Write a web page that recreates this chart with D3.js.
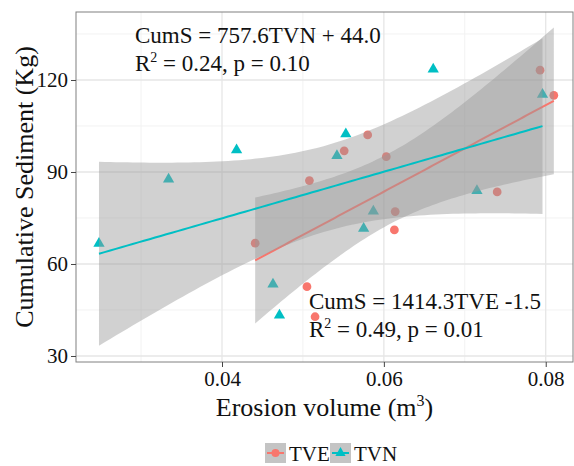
<!DOCTYPE html>
<html>
<head>
<meta charset="utf-8">
<script src="https://cdn.jsdelivr.net/npm/d3@7"></script>
<style>
  body { margin: 0; background: #fff; }
  svg text { font-family: "Liberation Serif", "Times New Roman", serif; fill: #111; }
</style>
</head>
<body>
<svg id="chart" width="574" height="466"></svg>
<script>
// data
var tveX = [0.0441, 0.0505, 0.0515, 0.0508, 0.0551, 0.0580, 0.0603, 0.0614, 0.0613, 0.0740, 0.0793, 0.0810];
var tveY = [66.8, 52.6, 42.8, 87.2, 96.9, 102.1, 95.0, 77.1, 71.1, 83.5, 123.2, 115.0];
var tvnX = [0.0248, 0.0334, 0.0418, 0.0553, 0.0542, 0.0661, 0.0796, 0.0715, 0.0587, 0.0575, 0.0463, 0.0471];
var tvnY = [66.7, 87.6, 97.2, 102.4, 95.3, 123.5, 115.3, 83.9, 77.2, 71.6, 53.4, 43.3];

var xTicks = [0.04, 0.06, 0.08];
var yTicks = [30, 60, 90, 120];
var xMinor = [0.03, 0.05, 0.07];
var yMinor = [45, 75, 105, 135];

var seriesNames = ["TVE", "TVN"];
var seriesColors = ["#F8766D", "#00BFC4"];

var svg = d3.select("#chart");

var pL = 76, pR = 573, pT = 12, pB = 362;

var x = d3.scaleLinear().domain([0.02196, 0.08337]).range([pL, pR]);
var y = d3.scaleLinear().domain([28.04, 142.17]).range([pB, pT]);

// panel
svg.append("rect")
  .attr("x", pL).attr("y", pT)
  .attr("width", pR - pL).attr("height", pB - pT)
  .attr("fill", "#fff");

var grid = svg.append("g");
grid.selectAll(".xminor").data(xMinor).enter().append("line")
  .attr("x1", d => x(d)).attr("x2", d => x(d))
  .attr("y1", pT).attr("y2", pB)
  .attr("stroke", "#f2f2f2").attr("stroke-width", 1);
grid.selectAll(".yminor").data(yMinor).enter().append("line")
  .attr("x1", pL).attr("x2", pR)
  .attr("y1", d => y(d)).attr("y2", d => y(d))
  .attr("stroke", "#f2f2f2").attr("stroke-width", 1);
grid.selectAll(".xmajor").data(xTicks).enter().append("line")
  .attr("x1", d => x(d)).attr("x2", d => x(d))
  .attr("y1", pT).attr("y2", pB)
  .attr("stroke", "#e6e6e6").attr("stroke-width", 1.3);
grid.selectAll(".ymajor").data(yTicks).enter().append("line")
  .attr("x1", pL).attr("x2", pR)
  .attr("y1", d => y(d)).attr("y2", d => y(d))
  .attr("stroke", "#e6e6e6").attr("stroke-width", 1.3);

var series = [
  { name: "TVE", xs: tveX, ys: tveY, color: seriesColors[0], shape: d3.symbolCircle },
  { name: "TVN", xs: tvnX, ys: tvnY, color: seriesColors[1], shape: d3.symbolTriangle }
];

// points first, smooths drawn over them
series.forEach(function (s) {
  svg.append("g").selectAll("path")
    .data(d3.range(s.xs.length))
    .enter().append("path")
    .attr("d", d3.symbol().type(s.shape).size(s.shape === d3.symbolCircle ? 60 : 55))
    .attr("transform", i => "translate(" + x(s.xs[i]) + "," + y(s.ys[i]) + ")")
    .attr("fill", s.color);
});

// linear fit with 95% confidence band
function lmFit(xs, ys) {
  var n = xs.length;
  var mx = d3.mean(xs), my = d3.mean(ys);
  var sxx = d3.sum(xs, v => (v - mx) * (v - mx));
  var sxy = d3.sum(xs.map((v, i) => (v - mx) * (ys[i] - my)));
  var b = sxy / sxx, a = my - b * mx;
  var rss = d3.sum(xs.map((v, i) => Math.pow(ys[i] - (a + b * v), 2)));
  var s = Math.sqrt(rss / (n - 2));
  var t = 2.228; // t(0.975, df = 10)
  var lo = d3.min(xs), hi = d3.max(xs);
  return d3.range(80).map(function (k) {
    var x0 = lo + (hi - lo) * k / 79;
    var fit = a + b * x0;
    var se = s * Math.sqrt(1 / n + (x0 - mx) * (x0 - mx) / sxx);
    return { x: x0, fit: fit, lo: fit - t * se, hi: fit + t * se };
  });
}

var area = d3.area().x(d => x(d.x)).y0(d => y(d.lo)).y1(d => y(d.hi));
var line = d3.line().x(d => x(d.x)).y(d => y(d.fit));

series.forEach(function (s) {
  var pts = lmFit(s.xs, s.ys);
  svg.append("path").attr("d", area(pts))
    .attr("fill", "#999").attr("fill-opacity", 0.45);
  svg.append("path").attr("d", line(pts))
    .attr("fill", "none").attr("stroke", s.color).attr("stroke-width", 2);
});

// panel border
svg.append("rect")
  .attr("x", pL).attr("y", pT)
  .attr("width", pR - pL).attr("height", pB - pT)
  .attr("fill", "none").attr("stroke", "#808080").attr("stroke-width", 1);

// axes
var yAxis = svg.append("g")
  .attr("transform", "translate(" + pL + ",0)")
  .call(d3.axisLeft(y).tickValues(yTicks).tickSize(5).tickPadding(3).tickFormat(d3.format("d")));
var xAxis = svg.append("g")
  .attr("transform", "translate(0," + pB + ")")
  .call(d3.axisBottom(x).tickValues(xTicks).tickSize(5).tickPadding(4).tickFormat(d3.format(".2f")));
[xAxis, yAxis].forEach(function (g) {
  g.select(".domain").remove();
  g.selectAll(".tick line").attr("stroke", "#444");
  g.selectAll(".tick text")
    .attr("font-family", "Liberation Serif, serif")
    .attr("font-size", 21).attr("fill", "#111");
});

// axis titles
var xt = svg.append("text")
  .attr("x", (pL + pR) / 2).attr("y", 416)
  .attr("text-anchor", "middle").attr("font-size", 26);
xt.append("tspan").text("Erosion volume (m");
xt.append("tspan").attr("font-size", 16).attr("dy", -10).text("3");
xt.append("tspan").attr("dy", 10).text(")");

svg.append("text")
  .attr("transform", "translate(33," + ((pT + pB) / 2) + ") rotate(-90)")
  .attr("text-anchor", "middle").attr("font-size", 26)
  .text("Cumulative Sediment (Kg)");

// regression labels
function label(px, py, eq, stats) {
  svg.append("text").attr("x", px).attr("y", py).attr("font-size", 23).text(eq);
  var t = svg.append("text").attr("x", px).attr("y", py + 28).attr("font-size", 23);
  t.append("tspan").text("R");
  t.append("tspan").attr("font-size", 14).attr("dy", -9).text("2");
  t.append("tspan").attr("dy", 9).text(stats);
}
label(135, 43, "CumS = 757.6TVN + 44.0", " = 0.24, p = 0.10");
label(309, 309, "CumS = 1414.3TVE -1.5", " = 0.49, p = 0.01");

// legend
var legend = svg.append("g");
var keyX = [265, 330];
series.forEach(function (s, i) {
  var g = legend.append("g").attr("transform", "translate(" + keyX[i] + ",443)");
  g.append("rect").attr("width", 21).attr("height", 20).attr("fill", "#c4c4c4");
  g.append("line").attr("x1", 2).attr("x2", 19).attr("y1", 10).attr("y2", 10)
    .attr("stroke", s.color).attr("stroke-width", 2);
  g.append("path")
    .attr("d", d3.symbol().type(s.shape).size(s.shape === d3.symbolCircle ? 50 : 45))
    .attr("transform", "translate(10.5,10)").attr("fill", s.color);
  g.append("text").attr("x", 24).attr("y", 18).attr("font-size", 21).text(s.name);
});
</script>
</body>
</html>
